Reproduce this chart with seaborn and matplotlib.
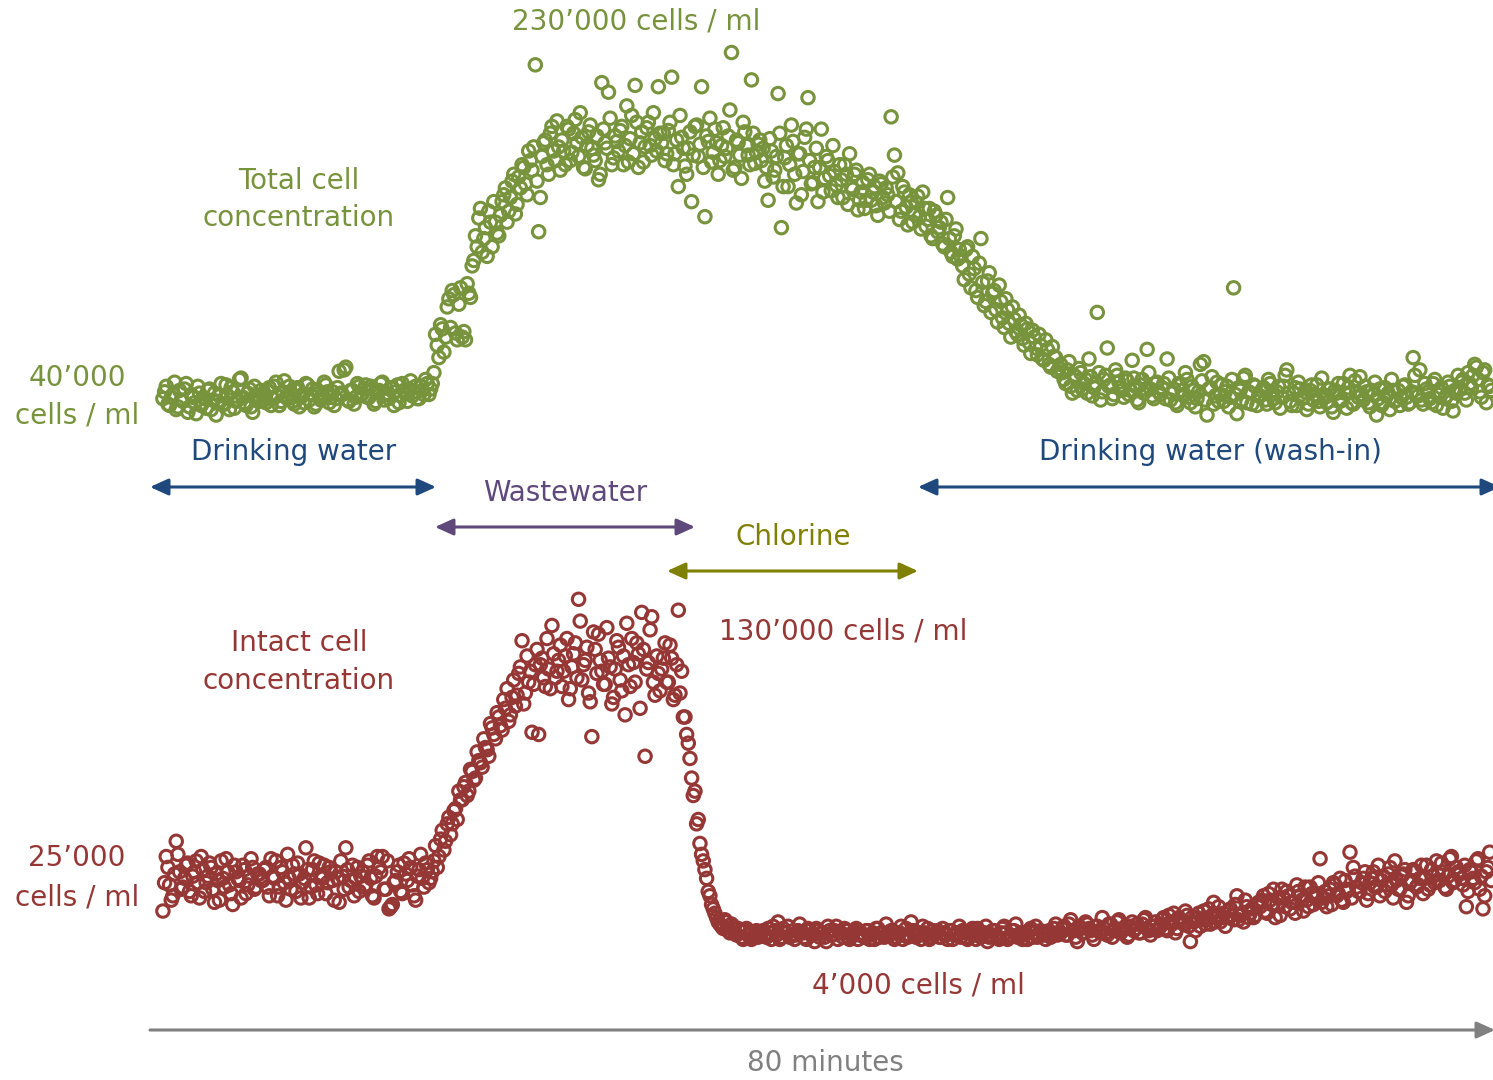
import numpy as np
import pandas as pd
import seaborn as sns
import matplotlib.pyplot as plt
from matplotlib.patches import FancyArrowPatch

# ---------------- data ----------------
# Total cell concentration, thousands of cells/ml. Two interleaved reads (a, b) of the dense band.
total_a0 = [41,50,36,44,33,47,39,52,35,42,30,45,38,34,48,40,29,43,37,51,33,46,39,55,42,36,48,31,44,39]
total_a1 = [44,38,49,41,53,36,46,42,50,39,47,35,44,52,40,48,37,45,43,51,38,46,41,61,44,64,39,47,42,50]
total_a2 = [45,51,42,48,39,47,53,44,41,49,46,38,52,45,48,43,50,41,47,55,44,52,88,71,92,86,114,120,89,110]
total_a3 = [86,84,118,138,160,173,148,166,178,152,170,160,185,195,178,200,176,203,212,198,222,208,285,163,218,230,205,240,215,225]
total_a4 = [230,212,238,221,245,218,232,209,236,224,215,201,272,228,265,212,233,222,240,226,214,248,270,210,236,225,243,219,231,269]
total_a5 = [228,215,237,276,220,196,232,211,224,185,240,218,269,174,229,214,238,205,226,218,233,294,210,228,202,236,219,274,213,227]
total_a6 = [215,200,186,222,208,264,166,217,196,241,205,220,190,232,261,198,210,185,238,202,215,193,207,188,201,212,183,196,205,179]
total_a7 = [192,180,201,186,196,175,198,184,190,247,219,206,178,192,168,185,176,189,165,180,172,160,178,163,170,152,188,148,160,143]
total_a8 = [145,128,152,122,136,115,158,109,127,104,120,97,112,93,106,86,99,88,95,80,92,74,86,73,80,69,77,64,72,61]
total_a9 = [66,55,62,50,58,47,60,52,45,57,49,104,40,55,78,51,44,58,49,42,54,47,56,40,51,45,77,48,41,53]
total_a10 = [44,52,70,40,48,36,51,43,55,38,47,41,66,68,29,49,37,53,44,39,50,42,122,30,47,56,38,45,51,36]
total_a11 = [43,49,37,52,41,46,34,50,62,39,45,36,48,42,33,47,40,51,35,44,38,48,31,45,39,52,34,58,37,46]
total_a12 = [57,40,46,35,44,29,48,38,43,33,47,40,36,50,42,38,71,45,62,37,48,41,52,36,46,34,43,50,32,45]
total_a13 = [48,55,40,52,58,64,46,60,38,50]

total_b0 = [46,37,42,53,35,40,48,31,44,38,50,36,41,47,33,45,39,52,37,43,49,34,40,56,38,45,35,50,41,47]
total_b1 = [40,47,36,50,43,39,54,41,45,37,49,42,38,51,44,35,47,40,53,46,42,36,49,45,62,40,47,37,52,43]
total_b2 = [48,42,50,37,46,52,40,45,49,36,51,43,47,39,54,46,41,50,44,52,48,60,80,95,75,108,93,117,84,122]
total_b3 = [90,125,115,142,152,180,158,145,170,185,162,175,190,170,188,205,183,195,210,190,215,225,200,188,228,212,235,222,244,208]
total_b4 = [222,240,215,235,228,250,210,226,241,219,233,205,238,224,246,217,229,237,212,255,231,220,243,228,214,239,226,250,222,235]
total_b5 = [235,220,243,212,230,248,224,205,236,219,241,227,210,233,246,221,228,215,239,224,252,208,230,219,243,226,212,235,221,230]
total_b6 = [224,210,231,203,218,235,196,226,212,229,184,220,207,238,215,199,224,210,192,218,204,226,197,212,188,205,220,194,208,186]
total_b7 = [199,186,205,192,182,200,188,195,178,203,185,172,196,181,190,170,184,174,192,167,180,158,175,166,154,172,158,145,165,150]
total_b8 = [138,150,132,145,120,140,126,112,133,118,106,124,100,114,96,108,90,102,85,96,82,91,78,88,70,84,66,79,71,63]
total_b9 = [60,52,68,45,57,63,48,55,70,43,52,60,46,58,50,41,62,53,47,56,44,69,50,38,55,48,60,43,52,46]
total_b10 = [49,41,56,45,38,52,47,60,42,50,35,46,54,40,48,57,43,39,51,46,35,55,44,49,40,58,46,37,50,43]
total_b11 = [47,40,55,44,38,50,42,58,45,36,49,53,41,46,37,51,44,39,56,42,48,35,47,52,40,45,49,38,54,42]
total_b12 = [44,50,38,47,53,41,36,49,45,55,39,47,42,51,37,46,58,43,40,52,46,38,55,44,49,41,53,39,47,58]
total_b13 = [53,45,60,49,66,55,42,62,51,47]

# Intact cell concentration, thousands of cells/ml
intact_a0 = [15,40,27,22,47,33,26,36,24,31,38,21,34,28,37,25,32,20,30,39,27,18,33,29,36,23,31,35,26,32]
intact_a1 = [29,35,22,31,38,26,33,20,30,36,24,32,28,44,21,34,27,37,30,23,35,29,33,19,31,44,26,36,30,24]
intact_a2 = [33,27,38,22,31,35,40,25,16,18,29,36,23,32,39,27,20,34,30,37,28,33,45,40,52,47,58,55,62,70]
intact_a3 = [66,74,70,79,76,84,81,90,86,99,94,104,98,108,102,113,109,124,139,115,120,97,128,96,131,118,126,146,122,130]
intact_a4 = [118,132,112,127,138,158,121,130,115,95,135,142,125,119,131,110,126,136,116,105,128,140,120,133,152,86,129,150,114,124]
intact_a5 = [126,138,120,131,114,153,125,104,92,76,70,57,41,34,24,18,14,10,8,11,6,9,5,7,3,6,4,2,5,3]
intact_a6 = [5,4,7,2,6,10,3,5,8,4,2,6,5,3,7,4,1,6,5,3,8,4,6,2,5,7,3,4,6,2]
intact_a7 = [5,3,6,4,2,7,5,3,4,6,2,5,8,4,3,10,6,4,2,5,7,3,4,6,3,5,2,6,4,5]
intact_a8 = [3,5,2,6,4,7,3,5,1,4,6,3,5,8,2,4,6,3,5,4,2,7,5,3,6,4,5,3,7,4]
intact_a9 = [5,8,4,11,6,1,7,5,9,6,2,8,5,7,4,9,6,10,5,7,3,8,6,9,5,11,7,4,8,6]
intact_a10 = [8,12,6,10,14,7,11,9,13,1,10,12,8,15,11,9,19,13,10,14,12,16,11,22,13,10,17,14,12,18]
intact_a11 = [17,22,14,20,25,18,13,21,24,16,19,27,22,15,20,26,18,23,39,21,17,25,28,22,30,19,24,42,35,26]
intact_a12 = [24,30,20,28,33,26,22,31,27,35,21,29,25,32,19,28,34,26,30,23,36,27,31,38,29,33,25,39,28,35]
intact_a13 = [32,27,17,34,30,38,25,16,33,42]

intact_b0 = [28,35,20,32,41,25,30,37,22,33,28,40,24,31,35,19,29,38,26,33,23,36,30,21,34,27,39,25,32,29]
intact_b1 = [34,26,39,30,22,35,28,41,25,32,37,21,30,34,26,38,23,31,36,28,33,20,30,38,25,34,29,22,35,31]
intact_b2 = [26,36,30,21,40,33,25,38,17,28,33,24,37,29,35,22,31,41,26,34,30,38,35,48,43,55,50,61,57,66]
intact_b3 = [72,68,80,75,88,83,94,89,101,96,106,100,112,117,105,121,114,127,110,132,125,119,135,128,122,140,117,133,125,137]
intact_b4 = [125,140,117,133,122,148,128,136,111,143,124,130,119,145,127,113,139,121,132,147,118,129,138,108,135,126,144,120,132,116]
intact_b5 = [131,120,137,112,128,115,104,96,85,68,55,46,38,30,22,16,12,9,7,10,5,8,4,6,2,7,5,3,6,4]
intact_b6 = [6,3,5,8,4,2,7,5,3,6,4,9,5,2,6,4,7,3,5,1,6,4,8,5,3,6,2,5,7,4]
intact_b7 = [4,6,2,5,7,3,5,9,4,6,3,5,2,7,4,6,3,5,8,4,2,6,5,3,7,4,6,2,5,8]
intact_b8 = [6,3,5,7,2,5,4,8,3,6,4,2,7,5,3,6,9,4,2,5,6,3,8,4,5,2,6,4,9,5]
intact_b9 = [7,4,9,6,3,8,5,10,7,4,8,6,12,5,9,3,7,11,6,8,4,10,7,5,9,12,6,8,10,7]
intact_b10 = [11,7,13,9,5,12,10,15,8,12,6,14,11,9,16,13,10,17,12,8,15,13,18,11,14,20,12,16,13,19]
intact_b11 = [20,15,23,18,12,21,25,17,22,19,14,24,20,26,17,23,21,28,19,24,22,18,27,23,20,29,25,21,31,24]
intact_b12 = [28,33,23,30,26,36,29,24,32,27,38,25,31,34,22,29,33,27,36,30,25,34,28,32,37,26,31,40,29,33]
intact_b13 = [30,36,24,33,28,39,31,22,35,29]

# first / last sample time of each read (minutes)
read_a_span = (0.77, 79.80)
read_b_span = (0.87, 79.90)
total_minutes = 80

labels_total = ["Total cell", "concentration"]
labels_intact = ["Intact cell", "concentration"]
label_total_base = ["40\u2019000", "cells / ml"]
label_intact_base = ["25\u2019000", "cells / ml"]
label_total_peak = "230\u2019000 cells / ml"
label_intact_peak = "130\u2019000 cells / ml"
label_intact_low = "4\u2019000 cells / ml"
phase_labels = ["Drinking water", "Wastewater", "Chlorine", "Drinking water (wash-in)"]
time_label = "80 minutes"


def frame(rows_a, rows_b):
    va = sum(rows_a, [])
    vb = sum(rows_b, [])
    ta = np.linspace(read_a_span[0], read_a_span[1], len(va))
    tb = np.linspace(read_b_span[0], read_b_span[1], len(vb))
    return pd.DataFrame({"minute": np.concatenate([ta, tb]), "cells": va + vb})


df_total = frame([total_a0, total_a1, total_a2, total_a3, total_a4, total_a5, total_a6,
                  total_a7, total_a8, total_a9, total_a10, total_a11, total_a12, total_a13],
                 [total_b0, total_b1, total_b2, total_b3, total_b4, total_b5, total_b6,
                  total_b7, total_b8, total_b9, total_b10, total_b11, total_b12, total_b13])
df_intact = frame([intact_a0, intact_a1, intact_a2, intact_a3, intact_a4, intact_a5, intact_a6,
                   intact_a7, intact_a8, intact_a9, intact_a10, intact_a11, intact_a12, intact_a13],
                  [intact_b0, intact_b1, intact_b2, intact_b3, intact_b4, intact_b5, intact_b6,
                   intact_b7, intact_b8, intact_b9, intact_b10, intact_b11, intact_b12, intact_b13])

# ---------------- style ----------------
GREEN = "#77933C"
RED = "#953735"
NAVY = "#1F497D"
PURPLE = "#5F497A"
OLIVE = "#7F7F00"
GREY = "#808080"

sns.set_theme(style="white")
plt.rcParams['font.family'] = ['DejaVu Sans']

W, H = 1493, 1080
fig = plt.figure(figsize=(W / 100, H / 100), dpi=100)
fig.patch.set_facecolor("white")

ax_top = fig.add_axes([0, 0, 1, 1])
ax_bot = fig.add_axes([0, 0, 1, 1])

sns.scatterplot(data=df_total, x="minute", y="cells", ax=ax_top, s=80,
                color=GREEN, facecolor="none", edgecolor=GREEN, linewidth=2.2,
                legend=False, clip_on=False)
sns.scatterplot(data=df_intact, x="minute", y="cells", ax=ax_bot, s=80,
                color=RED, facecolor="none", edgecolor=RED, linewidth=2.2,
                legend=False, clip_on=False)

ax_top.set_xlim(-8.935, 80)
ax_top.set_ylim(-457.1, 332.4)
ax_bot.set_xlim(-8.935, 80)
ax_bot.set_ylim(-62.5, 432.9)
for ax in (ax_top, ax_bot):
    ax.set_axis_off()


def T(x, y, s, color, size=20):
    fig.text(x / W, 1 - y / H, s, ha="center", va="center", color=color, fontsize=size)


def A(x1, x2, y, color, style):
    p = FancyArrowPatch((x1 / W, 1 - y / H), (x2 / W, 1 - y / H), transform=fig.transFigure,
                        arrowstyle=style, mutation_scale=10, lw=2.2, color=color,
                        shrinkA=0, shrinkB=0)
    fig.add_artist(p)


T(636, 22, label_total_peak, GREEN)
T(299, 181, labels_total[0], GREEN)
T(299, 218, labels_total[1], GREEN)
T(77, 378, label_total_base[0], GREEN)
T(77, 415, label_total_base[1], GREEN)

T(294, 452, phase_labels[0], NAVY)
T(565, 493, phase_labels[1], PURPLE)
T(793, 537, phase_labels[2], OLIVE)
T(1210, 452, phase_labels[3], NAVY)

dbl = "<|-|>,head_length=1.1,head_width=0.5"
A(150, 436, 487, NAVY, dbl)
A(435, 695, 527, PURPLE, dbl)
A(667, 918, 571, OLIVE, dbl)
A(918, 1500, 487, NAVY, dbl)

T(843, 632, label_intact_peak, RED)
T(299, 643, labels_intact[0], RED)
T(299, 681, labels_intact[1], RED)
T(77, 858, label_intact_base[0], RED)
T(77, 897, label_intact_base[1], RED)
T(918, 986, label_intact_low, RED)

A(150, 1495, 1030, GREY, "-|>,head_length=1.1,head_width=0.5")
T(825, 1063, time_label, GREY)

fig.savefig("out.png", dpi=100, facecolor="white")
